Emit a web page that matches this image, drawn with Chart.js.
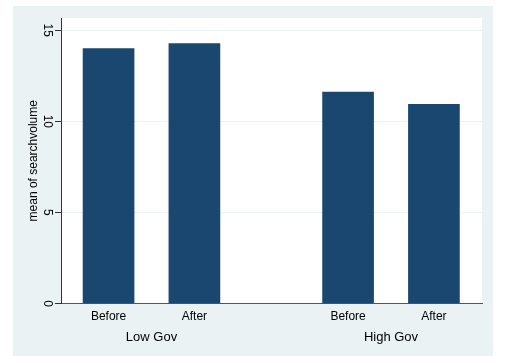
<!DOCTYPE html>
<html>
<head>
<meta charset="utf-8">
<script src="https://cdn.jsdelivr.net/npm/chart.js@4/dist/chart.umd.min.js"></script>
<style>
  html, body { margin: 0; padding: 0; background: #fff; }
  #wrap { width: 505px; height: 363px; }
</style>
</head>
<body>
<div id="wrap"><canvas id="c" width="505" height="363"></canvas></div>
<script>
// data
const groups = ["Low Gov", "High Gov"];
const periods = ["Before", "After"];
const lowGov = [13.99, 14.27];
const highGov = [11.61, 10.93];
const yTicks = [0, 5, 10, 15];

// layout of the bar slots (Stata style: small gap in group, big gap between)
const groupStep = 2.79;
const seriesByGroup = [lowGov, highGov];

const points = [];
const tickLabels = [];
seriesByGroup.forEach((vals, gi) => {
  vals.forEach((v, pi) => {
    points.push({ x: gi * groupStep + pi, y: v });
    tickLabels.push(periods[pi]);
  });
});
const groupCenters = groups.map((g, gi) => gi * groupStep + 0.5);

const FONT = "'Liberation Sans', Arial, sans-serif";
const xMin = -0.554, xMax = groupStep + 1 + 0.56;

// panel background + white plot region
const stataBg = {
  id: "stataBg",
  beforeDraw(chart) {
    const { ctx, chartArea } = chart;
    ctx.save();
    ctx.fillStyle = "#ffffff";
    ctx.fillRect(0, 0, chart.width, chart.height);
    ctx.fillStyle = "#eaf2f3";
    ctx.fillRect(13, 6, 480, 350);
    ctx.fillStyle = "#ffffff";
    ctx.fillRect(chartArea.left, chartArea.top, chartArea.right - chartArea.left, chartArea.bottom - chartArea.top);
    ctx.restore();
  }
};

new Chart(document.getElementById("c").getContext("2d"), {
  type: "bar",
  data: {
    datasets: [{
      data: points,
      backgroundColor: "#1a476f",
      borderWidth: 0,
      barThickness: 51
    }]
  },
  options: {
    responsive: false,
    animation: false,
    layout: { padding: { left: 13, top: 18, right: 23, bottom: 15.5 } },
    plugins: {
      legend: { display: false },
      tooltip: { enabled: false }
    },
    scales: {
      x: {
        type: "linear",
        position: "bottom",
        min: xMin,
        max: xMax,
        offset: false,
        grid: { display: false, drawTicks: false },
        border: { display: true, color: "#555", width: 1 },
        afterBuildTicks: (s) => { s.ticks = points.map(p => ({ value: p.x })); },
        afterFit: (s) => { s.height = 22; },
        ticks: {
          autoSkip: false,
          maxRotation: 0,
          padding: 6,
          color: "#000",
          font: { family: FONT, size: 12 },
          callback: (v, i) => tickLabels[i]
        }
      },
      x2: {
        type: "linear",
        position: "bottom",
        min: xMin,
        max: xMax,
        offset: false,
        grid: { display: false, drawTicks: false },
        border: { display: false },
        afterBuildTicks: (s) => { s.ticks = groupCenters.map(v => ({ value: v })); },
        afterFit: (s) => { s.height = 22; },
        ticks: {
          autoSkip: false,
          maxRotation: 0,
          padding: 4,
          color: "#000",
          font: { family: FONT, size: 13 },
          callback: (v, i) => groups[i]
        }
      },
      y: {
        min: 0,
        max: 15.67,
        afterBuildTicks: (s) => { s.ticks = yTicks.map(v => ({ value: v })); },
        afterFit: (s) => { s.width = 48; },
        grid: {
          color: (ctx) => (ctx.tick && ctx.tick.value === 0) ? "rgba(0,0,0,0)" : "#eaf2f3",
          lineWidth: 1,
          tickLength: 6,
          tickColor: "#333"
        },
        border: { display: true, color: "#333", width: 1 },
        title: {
          display: true,
          text: "mean of searchvolume",
          color: "#000",
          font: { family: FONT, size: 12 },
          padding: { top: 13, bottom: 0 }
        },
        ticks: {
          minRotation: -90,
          maxRotation: -90,
          crossAlign: "center",
          padding: 1,
          color: "#000",
          font: { family: FONT, size: 12 }
        }
      }
    }
  },
  plugins: [stataBg]
});
</script>
</body>
</html>
